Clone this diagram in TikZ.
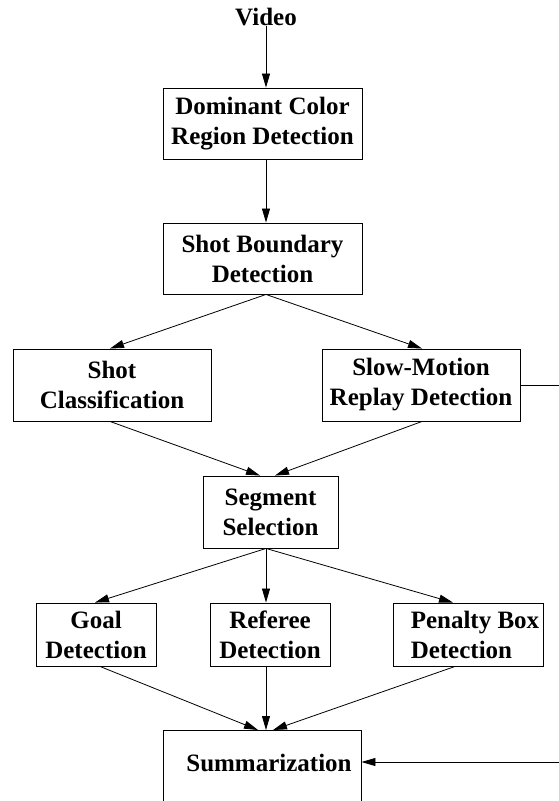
\documentclass[tikz,border=0pt]{standalone}
\usepackage{fontspec}
\setmainfont{Liberation Serif}
\usepackage{tikz}
\usetikzlibrary{arrows.meta, positioning}
\tikzset{>={Triangle[length=14pt, width=8pt]}}
\tikzset{block/.style={draw, rectangle, inner sep=0pt, align=center, line width=0.9pt,
    font=\bfseries\fontsize{25}{30}\selectfont}}

\begin{document}
\begin{tikzpicture}[x=1pt, y=-1pt, line width=0.8pt]
			\useasboundingbox (0,0) rectangle (559,801);

			\node[font=\bfseries\fontsize{25}{30}\selectfont, inner sep=0pt] (video) at (266,17) {Video};
			\node[block, minimum width=199, minimum height=71] (dom) at (262.5,123.5) {Dominant Color\\Region Detection};
			\node[block, minimum width=199, minimum height=71] (sbd) at (262.5,258.5) {Shot Boundary\\Detection};
			\node[block, minimum width=198, minimum height=72] (shotcls) at (112,385) {Shot\\Classification};
			\node[block, minimum width=198, minimum height=72] (slowmo) at (421,385) {Slow-Motion\\Replay Detection};
			\node[block, minimum width=135, minimum height=72] (seg) at (270.5,512) {Segment\\Selection};
			\node[block, minimum width=120, minimum height=63] (goal) at (96,634.5) {Goal\\Detection};
			\node[block, minimum width=120, minimum height=63] (referee) at (270,634.5) {Referee\\Detection};
			\node[block, minimum width=150, minimum height=63, align=left] (penalty) at (468,634.5) {\hspace*{14pt}Penalty Box\\\hspace*{14pt}Detection};
			\node[block, minimum width=198, text height=41, text depth=45, anchor=north] (summ) at (262,730) {\hspace*{14pt}Summarization};

			\coordinate (rt) at (575,385);
			\coordinate (rb) at (575,762);

			\draw [->] (video.south) -- (video |- dom.north);
			\draw [->] (video |- dom.south) -- (video |- sbd.north);
			\draw [->] (video |- sbd.south) -- ([xshift=-2]shotcls.north);
			\draw [->] (video |- sbd.south) -- ([xshift=1]slowmo.north);
			\draw [->] ([xshift=-2]shotcls.south) -- ([xshift=-10.5]seg.north);
			\draw [->] ([xshift=1]slowmo.south) -- ([xshift=4.5]seg.north);
			\draw [->] (video |- seg.south) -- ([xshift=-1]goal.north);
			\draw [->] (video |- seg.south) -- (video |- referee.north);
			\draw [->] (video |- seg.south) -- ([xshift=-15]penalty.north);
			\draw [->] ([xshift=4]goal.south) -- ([xshift=-4]summ.north);
			\draw [->] (video |- referee.south) -- (video |- summ.north);
			\draw [->] ([xshift=-13]penalty.south) -- ([xshift=11]summ.north);
			\draw (slowmo.east) -- (rt) -- (rb);
			\draw [->] (rb) -- (rb -| summ.east);

\end{tikzpicture}
\end{document}
